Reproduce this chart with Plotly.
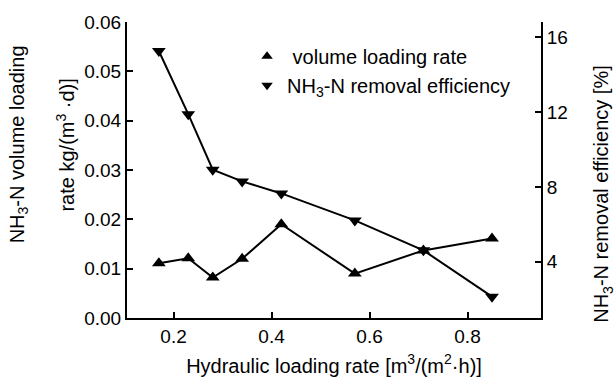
import plotly.graph_objects as go

hlr = [0.17, 0.23, 0.28, 0.34, 0.42, 0.57, 0.71, 0.85]
volume_loading = [0.0111, 0.0121, 0.0082, 0.0120, 0.0190, 0.0090, 0.0137, 0.0161]
removal_eff = [15.25, 11.88, 8.92, 8.29, 7.65, 6.21, 4.61, 2.14]

x_ticks = [0.2, 0.4, 0.6, 0.8]
y_ticks = [0.00, 0.01, 0.02, 0.03, 0.04, 0.05, 0.06]
y2_ticks = [4, 8, 12, 16]

FONT = "Liberation Sans, Arial, sans-serif"

fig = go.Figure()
fig.add_trace(go.Scatter(x=hlr, y=volume_loading, mode="lines+markers",
                         line=dict(color="black", width=2),
                         marker=dict(symbol="triangle-up", size=12, color="black"),
                         showlegend=False))
fig.add_trace(go.Scatter(x=hlr, y=removal_eff, mode="lines+markers", yaxis="y2",
                         line=dict(color="black", width=2),
                         marker=dict(symbol="triangle-down", size=12, color="black"),
                         showlegend=False))
# legend-only entries (markers only)
fig.add_trace(go.Scatter(x=[None], y=[None], mode="markers",
                         marker=dict(symbol="triangle-up", size=10, color="black"),
                         name=" volume loading rate"))
fig.add_trace(go.Scatter(x=[None], y=[None], mode="markers",
                         marker=dict(symbol="triangle-down", size=10, color="black"),
                         name="NH<sub>3</sub>-N removal efficiency"))

axis_common = dict(showline=True, linecolor="black", linewidth=2, ticks="inside",
                   ticklen=6, tickwidth=2, tickcolor="black", showgrid=False,
                   zeroline=False, tickfont=dict(size=19, color="black", family=FONT))

fig.update_layout(
    width=616, height=386,
    margin=dict(l=127, r=75, t=20, b=63),
    paper_bgcolor="white", plot_bgcolor="white",
    font=dict(family=FONT, color="black"),
    xaxis=dict(range=[0.105, 0.95], tickvals=x_ticks, ticktext=[str(v) for v in x_ticks],
               title=dict(text="Hydraulic loading rate [m<sup>3</sup>/(m<sup>2</sup>·h)]",
                          font=dict(size=20, family=FONT), standoff=13),
               **axis_common),
    yaxis=dict(range=[0, 0.06], tickvals=y_ticks, ticktext=[f"{v:.2f}" for v in y_ticks],
               **axis_common),
    yaxis2=dict(range=[1, 16.8], tickvals=y2_ticks, overlaying="y", side="right",
                anchor="x", **axis_common),
    legend=dict(x=0.29, y=0.95, xanchor="left", yanchor="top",
                bgcolor="rgba(0,0,0,0)", font=dict(size=20, family=FONT),
                tracegroupgap=0, itemsizing="trace"),
    annotations=[
        dict(text="NH<sub>3</sub>-N volume loading", xref="paper", yref="paper",
             x=-0.262, y=0.585, textangle=-90, showarrow=False,
             font=dict(size=20, family=FONT, color="black"), xanchor="center", yanchor="middle"),
        dict(text="rate kg/(m<sup>3</sup> ·d)]", xref="paper", yref="paper",
             x=-0.148, y=0.585, textangle=-90, showarrow=False,
             font=dict(size=20, family=FONT, color="black"), xanchor="center", yanchor="middle"),
        dict(text="NH<sub>3</sub>-N removal efficiency [%]", xref="paper", yref="paper",
             x=1.15, y=0.42, textangle=-90, showarrow=False,
             font=dict(size=20, family=FONT, color="black"), xanchor="center", yanchor="middle"),
    ],
)

fig.write_html("out.html")
